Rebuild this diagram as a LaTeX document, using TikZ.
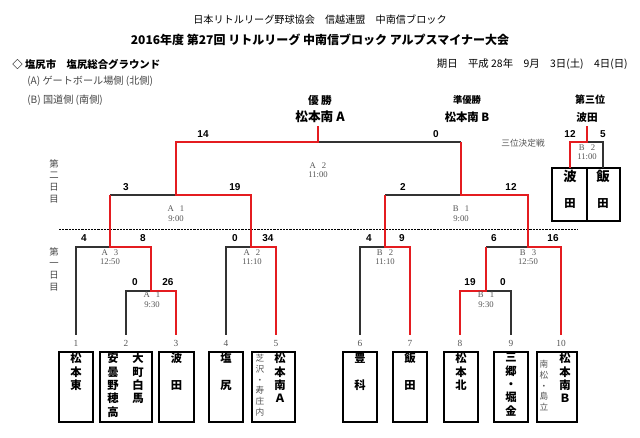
\documentclass[tikz,border=0pt]{standalone}
\usepackage{fontspec}
\setmainfont{Liberation Serif}
\newfontfamily\jp{Noto Sans CJK JP}
\newfontfamily\sansnum{Liberation Sans}
\definecolor{myred}{RGB}{228,28,32}
\definecolor{linegray}{RGB}{50,50,50}
\definecolor{txtgray}{RGB}{70,70,70}
\definecolor{lblgray}{RGB}{85,85,85}
\begin{document}
\begin{tikzpicture}[x=0.75pt,y=-0.75pt,
  win/.style={draw=myred,line width=1.9pt},
  lose/.style={draw=linegray,line width=0.9pt},
  score/.style={font=\sansnum\bfseries\fontsize{7.5}{8}\selectfont,inner sep=0},
  mlabel/.style={font=\fontsize{6.5}{7.2}\selectfont,text=lblgray,align=center,inner sep=0},
  numlabel/.style={font=\fontsize{7}{8}\selectfont,text=lblgray,inner sep=0},
  teambox/.style={draw=black,line width=0.9pt,minimum height=52.5pt,inner sep=0},
  tname/.style={font=\jp\bfseries\fontsize{8.5}{10}\selectfont,align=center,anchor=north,inner sep=0},
  subname/.style={font=\jp\fontsize{6.5}{8.1}\selectfont,text=lblgray,align=center,anchor=north,inner sep=0},
  daylabel/.style={font=\jp\fontsize{7}{8.75}\selectfont,text=txtgray,align=center,inner sep=0}
]
\useasboundingbox (0,0) rectangle (640,438);

% ---------- header ----------
\node[font=\jp\fontsize{7.6}{8}\selectfont] (h1) at (320,20) {日本リトルリーグ野球協会　信越連盟　中南信ブロック};
\node[font=\jp\bfseries\fontsize{9}{10}\selectfont] (h2) at (320,40) {2016年度 第27回 リトルリーグ 中南信ブロック アルプスマイナー大会};
\node[anchor=west,font=\jp\bfseries\fontsize{7.8}{8}\selectfont,inner sep=0] (venue) at (12,64) {◇ 塩尻市　塩尻総合グラウンド};
\node[anchor=east,font=\jp\fontsize{7.8}{8}\selectfont,inner sep=0] (date) at (628,64) {期日　平成 28年　9月　3日(土)　4日(日)};
\node[anchor=west,font=\jp\fontsize{7.6}{8}\selectfont,text=txtgray,inner sep=0] (fa) at (27,81) {(A) ゲートボール場側 (北側)};
\node[anchor=west,font=\jp\fontsize{7.6}{8}\selectfont,text=txtgray,inner sep=0] (fb) at (27,100) {(B) 国道側 (南側)};

\node[font=\jp\bfseries\fontsize{8}{8}\selectfont,inner sep=0] (yusho) at (320,100) {優 勝};
\node[font=\jp\bfseries\fontsize{7}{8}\selectfont,inner sep=0] (junyusho) at (467,100) {準優勝};
\node[font=\jp\bfseries\fontsize{7.5}{8}\selectfont,inner sep=0] (sanni) at (590,100) {第三位};
\node[font=\jp\bfseries\fontsize{9.5}{10}\selectfont,inner sep=0] (w1) at (320,117) {松本南 A};
\node[font=\jp\bfseries\fontsize{8.5}{10}\selectfont,inner sep=0] (w2) at (467,117) {松本南 B};
\node[font=\jp\bfseries\fontsize{8}{10}\selectfont,inner sep=0] (w3) at (587,117) {波田};

% ---------- day labels and divider ----------
\node[daylabel] (day2) at (54,181) {第\\二\\日\\目};
\node[daylabel] (day1) at (54,269) {第\\一\\日\\目};
\coordinate (dl) at (59,229);
\coordinate (dr) at (578,229);
\draw[black,line width=0.7pt,dash pattern=on 1.6pt off 0.8pt] (dl) -- (dr);

% ---------- coordinates ----------
\foreach \n/\x in {1/76,2/126,3/176,4/226,5/276,6/360,7/410,8/460,9/511,10/561}{
  \coordinate (t\n) at (\x,335);
  \node[numlabel] (n\n) at (\x,343) {\n};
}
\coordinate (a1) at (151,291);
\coordinate (a3) at (110,247);
\coordinate (a2) at (251,247);
\coordinate (da1) at (176,195);
\coordinate (b2) at (385,247);
\coordinate (b1) at (486,291);
\coordinate (b3) at (528,247);
\coordinate (db1) at (461,195);
\coordinate (fin) at (318,142);
\coordinate (champ) at (318,126);

% ---------- losing lines ----------
\draw[lose] (t1) |- (a3);
\draw[lose] (t2) |- (a1);
\draw[lose] (t4) |- (a2);
\draw[lose] (a3 |- da1) -- (da1);
\draw[lose] (t6) |- (b2);
\draw[lose] (t9) |- (b1);
\draw[lose] (b1 |- b3) -- (b3);
\draw[lose] (b2 |- db1) -- (db1);
\draw[lose] (fin) -- (db1 |- fin);

% ---------- winning lines ----------
\draw[win] (t3) |- (a1) |- (a3) -- (a3 |- da1);
\draw[win] (t5) |- (a2) |- (da1) |- (fin) -- (champ);
\draw[win] (t7) |- (b2) -- (b2 |- db1);
\draw[win] (t8) |- (b1) -- (b1 |- b3);
\draw[win] (t10) |- (b3) |- (db1) -- (db1 |- fin);

% ---------- scores ----------
\node[score] (s1) at (203,134) {14};
\node[score] (s2) at (436,134) {0};
\node[score] (s3) at (126,187) {3};
\node[score] (s4) at (235,187) {19};
\node[score] (s5) at (403,187) {2};
\node[score] (s6) at (511,187) {12};
\node[score] (s7) at (84,238) {4};
\node[score] (s8) at (143,238) {8};
\node[score] (s9) at (235,238) {0};
\node[score] (s10) at (268,238) {34};
\node[score] (s11) at (369,238) {4};
\node[score] (s12) at (402,238) {9};
\node[score] (s13) at (494,238) {6};
\node[score] (s14) at (553,238) {16};
\node[score] (s15) at (135,282) {0};
\node[score] (s16) at (168,282) {26};
\node[score] (s17) at (470,282) {19};
\node[score] (s18) at (503,282) {0};

% ---------- match labels ----------
\node[mlabel] (mfin) at (318,170) {A\hspace{0.7em}2\\11:00};
\node[mlabel] (mda1) at (176,213.5) {A\hspace{0.7em}1\\9:00};
\node[mlabel] (mdb1) at (461,213.5) {B\hspace{0.7em}1\\9:00};
\node[mlabel] (ma3) at (110,257) {A\hspace{0.7em}3\\12:50};
\node[mlabel] (ma2) at (252,257) {A\hspace{0.7em}2\\11:10};
\node[mlabel] (mb2) at (385,257) {B\hspace{0.7em}2\\11:10};
\node[mlabel] (mb3) at (528,257) {B\hspace{0.7em}3\\12:50};
\node[mlabel] (ma1) at (152,300) {A\hspace{0.7em}1\\9:30};
\node[mlabel] (mb1) at (486,300) {B\hspace{0.7em}1\\9:30};

% ---------- third place match ----------
\node[draw=black,line width=0.9pt,minimum width=26.25pt,minimum height=39.75pt,inner sep=0] (hbox) at (569.5,194.5) {};
\node[draw=black,line width=0.9pt,minimum width=24.75pt,minimum height=39.75pt,inner sep=0] (ibox) at (603.5,194.5) {};
\coordinate (th) at (570,168);
\coordinate (ti) at (603,168);
\coordinate (tm) at (587,142);
\coordinate (tt) at (587,126);
\draw[lose] (tm) -| (ti);
\draw[win] (th) |- (tm) -- (tt);
\node[score] (s19) at (570,134) {12};
\node[score] (s20) at (603,134) {5};
\node[mlabel] (m3) at (587,152) {B\hspace{0.7em}2\\11:00};
\node[font=\jp\fontsize{6.5}{7}\selectfont,text=lblgray,inner sep=0] (sanketsu) at (523,143) {三位決定戦};
\node[font=\jp\bfseries\fontsize{10}{10}\selectfont,inner sep=0] (hk1) at (570,176) {波};
\node[font=\jp\bfseries\fontsize{8.5}{10}\selectfont,inner sep=0] (hk2) at (570,203) {田};
\node[font=\jp\bfseries\fontsize{10}{10}\selectfont,inner sep=0] (ik1) at (603,176) {飯};
\node[font=\jp\bfseries\fontsize{8.5}{10}\selectfont,inner sep=0] (ik2) at (603,203) {田};

% ---------- team boxes ----------
\node[teambox,minimum width=25.5pt] (box1) at (76,387) {};
\node[teambox,minimum width=39pt] (box2) at (126,387) {};
\node[teambox,minimum width=26.25pt] (box3) at (176.5,387) {};
\node[teambox,minimum width=25.5pt] (box4) at (226,387) {};
\node[teambox,minimum width=32.25pt] (box5) at (273.5,387) {};
\node[teambox,minimum width=25.5pt] (box6) at (360,387) {};
\node[teambox,minimum width=25.5pt] (box7) at (410,387) {};
\node[teambox,minimum width=25.5pt] (box8) at (461,387) {};
\node[teambox,minimum width=25.5pt] (box9) at (511,387) {};
\node[teambox,minimum width=30pt] (box10) at (557,387) {};

\node[tname] (tn1) at (76,353) {松\\本\\東};
\node[tname] (tn2a) at (113,353) {安\\曇\\野\\穂\\高};
\node[tname] (tn2b) at (138,353) {大\\町\\白\\馬};
\node[tname] (tn3) at (176.5,353) {波\\ \\田};
\node[tname] (tn4) at (226,353) {塩\\ \\尻};
\node[subname] (tn5a) at (260,354) {芝\\沢\\・\\寿\\庄\\内};
\node[tname] (tn5b) at (280,353) {松\\本\\南\\Ａ};
\node[tname] (tn6) at (360,353) {豊\\ \\科};
\node[tname] (tn7) at (410,353) {飯\\ \\田};
\node[tname] (tn8) at (461,353) {松\\本\\北};
\node[tname] (tn9) at (511,353) {三\\郷\\・\\堀\\金};
\node[subname] (tn10a) at (544,360) {南\\松\\・\\島\\立};
\node[tname] (tn10b) at (565,353) {松\\本\\南\\Ｂ};
\end{tikzpicture}
\end{document}
